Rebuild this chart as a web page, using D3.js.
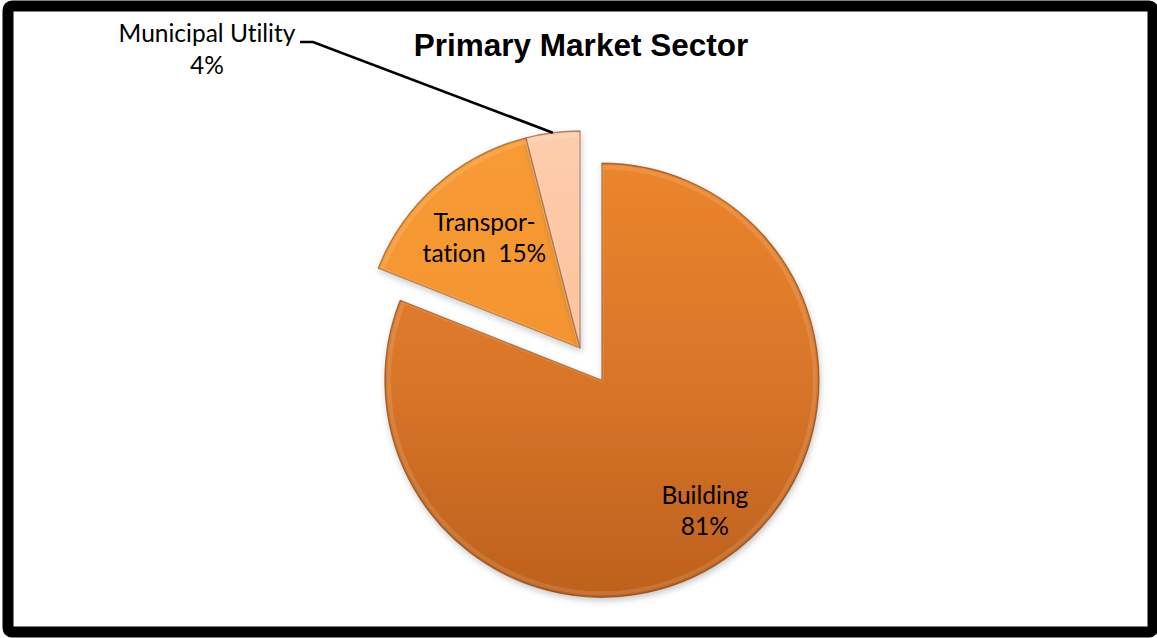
<!DOCTYPE html>
<html lang="en">
<head>
  <meta charset="UTF-8">
  <title>Primary Market Sector</title>
  <script src="https://d3js.org/d3.v7.min.js"></script>
  <style>
    html, body { margin: 0; padding: 0; background: #fff; }
    svg { display: block; }
    .lbl { font-family: Lato, "Open Sans", sans-serif; font-size: 24.5px; fill: #000; font-variant-ligatures: none; }
    .title { font-family: "Liberation Sans", Arial, sans-serif; font-weight: bold; font-size: 31.5px; fill: #000; }
  </style>
</head>
<body>
  <svg id="chart" width="1157" height="638"></svg>

  <script>
    // data
    const sectors = ["Building", "Transportation", "Municipal Utility"];
    const shares = [81, 15, 4];
    // label lines as shown on the chart
    const labelLines = [["Building", "81%"], ["Transpor-", "tation  15%"], ["Municipal Utility", "4%"]];

    const width = 1157, height = 638;
    const cx = 580, cy = 348, radius = 217;
    const explodeBuilding = 39;

    const svg = d3.select("#chart");
    const defs = svg.append("defs");

    // gradients for each slice (top light -> bottom darker), in slice-local coords
    const grads = [
      { id: "gBuild", stops: ["#eb852d", "#d87528", "#bd611d"] },
      { id: "gTrans", stops: ["#f89c36", "#f39430", "#ea872a"] },
      { id: "gMuni", stops: ["#fdcdac", "#fcc29e", "#f5b088"] }
    ];
    grads.forEach(g => {
      const lg = defs.append("linearGradient").attr("id", g.id)
        .attr("gradientUnits", "userSpaceOnUse")
        .attr("x1", 0).attr("y1", -radius).attr("x2", 0).attr("y2", radius);
      g.stops.forEach((c, i) => lg.append("stop").attr("offset", i / (g.stops.length - 1)).attr("stop-color", c));
    });

    const shadow = defs.append("filter").attr("id", "shadow")
      .attr("x", "-20%").attr("y", "-20%").attr("width", "140%").attr("height", "140%");
    shadow.append("feDropShadow").attr("dx", 1).attr("dy", 3).attr("stdDeviation", 3)
      .attr("flood-color", "#000").attr("flood-opacity", 0.22);

    // frame
    svg.append("rect")
      .attr("x", 8).attr("y", 6).attr("width", 1145).attr("height", 626)
      .attr("rx", 4)
      .attr("fill", "#fff").attr("stroke", "#000").attr("stroke-width", 11);

    svg.append("text").attr("class", "title")
      .attr("x", 581).attr("y", 56).attr("text-anchor", "middle")
      .text("Primary Market Sector");

    const pie = d3.pie().sort(null).value(d => d)(shares);
    const arc = d3.arc().innerRadius(0).outerRadius(radius);
    const edgeColors = ["#7a3c0e", "#8c4c14", "#8a4a2c"];

    function offset(d, i) {
      if (i !== 0) return [0, 0];
      const a = (d.startAngle + d.endAngle) / 2;
      return [Math.sin(a) * explodeBuilding, -Math.cos(a) * explodeBuilding];
    }

    const slices = svg.append("g").attr("transform", `translate(${cx},${cy})`);

    const g = slices.selectAll("g.slice").data(pie).join("g")
      .attr("class", "slice")
      .attr("transform", (d, i) => { const o = offset(d, i); return `translate(${o[0]},${o[1]})`; });

    g.append("path")
      .attr("d", arc)
      .attr("fill", (d, i) => `url(#${grads[i].id})`)
      .attr("filter", "url(#shadow)")
      .attr("stroke", (d, i) => edgeColors[i])
      .attr("stroke-opacity", 0.65)
      .attr("stroke-width", 1.3)
      .attr("stroke-linejoin", "round");

    // soft bevel highlight along the edges
    g.append("path")
      .attr("d", d3.arc().innerRadius(0).outerRadius(radius - 4))
      .attr("fill", "none")
      .attr("stroke", "#fff")
      .attr("stroke-opacity", 0.12)
      .attr("stroke-width", 4)
      .attr("stroke-linejoin", "round");

    // labels inside slices
    const labelRadius = [0.77, 0.666];
    const labelNudge = [[9, -6], [0, 0]];
    const lineGap = 31.5;
    pie.slice(0, 2).forEach((d, i) => {
      const o = offset(d, i);
      const p = d3.arc().innerRadius(0).outerRadius(radius * labelRadius[i] * 2).centroid(d);
      const x = p[0] + o[0] + labelNudge[i][0];
      const y = p[1] + o[1] + labelNudge[i][1] - lineGap / 2 + 7;
      const t = slices.append("text").attr("class", "lbl").attr("text-anchor", "middle")
        .attr("x", x).attr("y", y);
      labelLines[i].forEach((s, k) => {
        t.append("tspan").attr("x", x).attr("dy", k === 0 ? 0 : lineGap)
          .style("white-space", "pre").text(s);
      });
    });

    // Municipal Utility label outside with leader line
    const muni = pie[2];
    const ma = (muni.startAngle + muni.endAngle) / 2;
    const tip = [cx + Math.sin(ma) * radius, cy - Math.cos(ma) * radius];
    const lx = 207, ly = 42;
    svg.append("path")
      .attr("d", d3.line()([[lx + 93, ly], [lx + 106, ly], tip]))
      .attr("fill", "none").attr("stroke", "#000").attr("stroke-width", 2.6);

    const mt = svg.append("text").attr("class", "lbl").attr("text-anchor", "middle")
      .attr("x", lx).attr("y", ly);
    labelLines[2].forEach((s, k) => {
      mt.append("tspan").attr("x", lx).attr("dy", k === 0 ? 0 : 32).text(s);
    });
  </script>
</body>
</html>
